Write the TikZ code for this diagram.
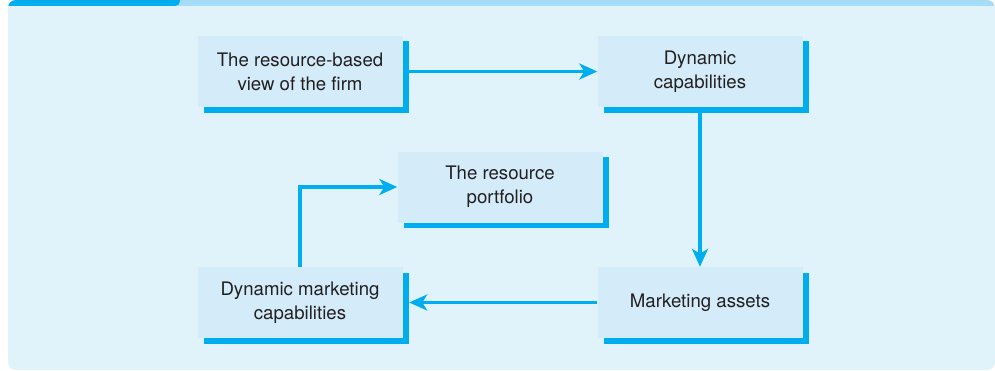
\documentclass[tikz,border=0pt]{standalone}
\usepackage{fontspec}
\setmainfont{TeX Gyre Heros}
\usetikzlibrary{arrows.meta,shadows}

\definecolor{panelbg}{RGB}{224,243,251}
\definecolor{boxbg}{RGB}{212,236,249}
\definecolor{stripbg}{RGB}{166,220,247}
\definecolor{linkblue}{RGB}{0,174,239}
\definecolor{textgray}{RGB}{35,31,32}

\begin{document}
\begin{tikzpicture}[x=1bp,y=1bp,
    box/.style={fill=boxbg, minimum width=205bp, minimum height=71bp, inner sep=0pt,
      align=center, text=textgray, font=\fontsize{18.7}{24}\selectfont,
      drop shadow={shadow xshift=6.5bp, shadow yshift=-5.5bp, fill=linkblue, opacity=1}},
    link/.style={draw=linkblue, line width=3.2bp,
      -{Stealth[length=18bp,width=16bp,inset=5bp]}}]
  \pgfmathsetmacro\hstep{200}
  \pgfmathsetmacro\vstep{115.5}
  \pgfmathsetmacro\xleft{300}
  \pgfmathsetmacro\ybot{67.5}

  \useasboundingbox (0,0) rectangle (995,370);

% panel with strip and tab on top
  \fill[panelbg,rounded corners=8bp] (8,0) rectangle (995,370);
  \begin{scope}
    \clip[rounded corners=8bp] (8,0) rectangle (995,370);
    \fill[stripbg] (8,364) rectangle (995,370);
    \fill[linkblue,rounded corners=5bp] (0,364) rectangle (180,380);
  \end{scope}

% boxes
  \node[box] (rbv)       at (\xleft,\ybot+2*\vstep)          {The resource-based\\view of the firm};
  \node[box] (dyncap)    at (\xleft+2*\hstep,\ybot+2*\vstep) {Dynamic\\capabilities};
  \node[box] (portfolio) at (\xleft+\hstep,\ybot+\vstep)     {The resource\\portfolio};
  \node[box] (dynmkt)    at (\xleft,\ybot)                   {Dynamic marketing\\capabilities};
  \node[box] (mktassets) at (\xleft+2*\hstep,\ybot)          {Marketing assets};

% arrows
  \draw[link] (rbv) -- (dyncap);
  \draw[link] (dyncap) -- (mktassets);
  \draw[link] (mktassets) -- ([xshift=6.5bp]dynmkt.east);
  \draw[link] (dynmkt.north) |- (portfolio.west);
\end{tikzpicture}
\end{document}
